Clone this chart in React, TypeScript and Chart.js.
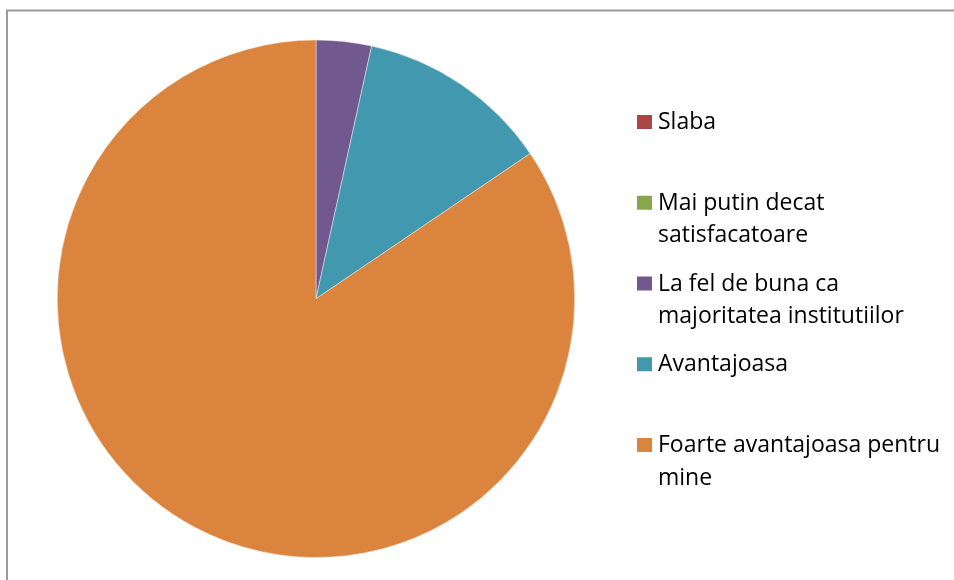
import React, { useEffect, useRef } from "react";
import { Chart, registerables } from "chart.js";

Chart.register(...registerables);

const categories = [
  "Slaba",
  "Mai putin decat satisfacatoare",
  "La fel de buna ca majoritatea institutiilor",
  "Avantajoasa",
  "Foarte avantajoasa pentru mine",
];
const values = [0, 0, 2, 7, 49];
const colors = ["#AA4643", "#89A54E", "#71588F", "#4198AF", "#DB843D"];

const FONT = "23px 'Open Sans', sans-serif";

const wrap = (ctx: CanvasRenderingContext2D, text: string, maxW: number) => {
  const words = text.split(" ");
  const lines: string[] = [];
  let cur = "";
  for (const w of words) {
    const t = cur ? cur + " " + w : w;
    if (ctx.measureText(t).width > maxW && cur) {
      lines.push(cur);
      cur = w;
    } else cur = t;
  }
  if (cur) lines.push(cur);
  return lines;
};

const framePlugin = {
  id: "frameAndLegend",
  beforeDraw(chart: any) {
    const ctx = chart.ctx as CanvasRenderingContext2D;
    ctx.save();
    ctx.fillStyle = "#ffffff";
    ctx.fillRect(0, 0, chart.width, chart.height);
    ctx.strokeStyle = "#9a9a9a";
    ctx.lineWidth = 2;
    ctx.strokeRect(7, 10.5, 2000, 2000);
    ctx.restore();
  },
  afterDraw(chart: any) {
    const ctx = chart.ctx as CanvasRenderingContext2D;
    const labels: string[] = chart.data.labels;
    const bg: string[] = chart.data.datasets[0].backgroundColor;
    ctx.save();
    ctx.font = FONT;
    ctx.textBaseline = "middle";
    ctx.fillStyle = "#000";
    labels.forEach((lab, i) => {
      const y = 122 + i * 80.75;
      ctx.fillStyle = bg[i];
      ctx.fillRect(637, y - 7, 15, 14);
      ctx.fillStyle = "#000";
      const lines = wrap(ctx, lab, 292);
      lines.forEach((ln, j) => ctx.fillText(ln, 658, y + 0.5 + j * 32.5));
    });
    ctx.restore();
  },
};

export default function App() {
  const ref = useRef<HTMLCanvasElement>(null);
  useEffect(() => {
    if (!ref.current) return;
    const chart = new Chart(ref.current, {
      type: "pie",
      data: {
        labels: categories,
        datasets: [
          {
            data: values,
            backgroundColor: colors,
            borderColor: "#f4ece6",
            borderWidth: 0.5,
          },
        ],
      },
      options: {
        responsive: false,
        animation: false,
        layout: { padding: { left: 57, top: 39.5, right: 379, bottom: 22 } },
        plugins: {
          legend: { display: false },
          tooltip: { enabled: false },
        },
      },
      plugins: [framePlugin],
    });
    return () => chart.destroy();
  }, []);
  return (
    <div style={{ position: "fixed", left: 0, top: 0, width: 954, height: 580, background: "#fff" }}>
      <canvas ref={ref} width={954} height={580} />
    </div>
  );
}
